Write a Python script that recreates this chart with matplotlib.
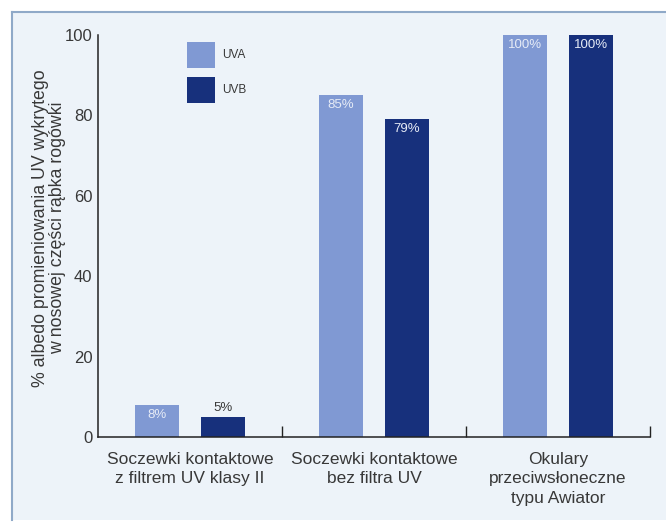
import matplotlib
matplotlib.use("Agg")
import matplotlib.pyplot as plt
import numpy as np
from matplotlib.patches import Rectangle

plt.rcParams['font.family'] = ['Liberation Sans', 'DejaVu Sans']

categories = ["Soczewki kontaktowe\nz filtrem UV klasy II",
              "Soczewki kontaktowe\nbez filtra UV",
              "Okulary\nprzeciwsłoneczne\ntypu Awiator"]
uva = [8, 85, 100]
uvb = [5, 79, 100]
series_names = ["UVA", "UVB"]
y_ticks = [0, 20, 40, 60, 80, 100]
y_label = "% albedo promieniowania UV wykrytego\nw nosowej części rąbka rogówki"

COL_UVA = "#8099d3"
COL_UVB = "#17307c"
PANEL = "#edf3f9"
TEXT = "#383838"

fig = plt.figure(figsize=(6.66, 5.22), dpi=100)
fig.patch.set_facecolor("white")

# light panel with a thin blue frame on the top and left edge
fig.patches.append(Rectangle((12 / 666, 0.004), 1, 1 - 12 / 522 - 0.004,
                             transform=fig.transFigure, facecolor=PANEL,
                             edgecolor="none", zorder=-10))
fig.add_artist(plt.Line2D([12 / 666, 12 / 666], [0.004, 1 - 12 / 522],
                          transform=fig.transFigure, color="#8fa9c8", lw=1.5))
fig.add_artist(plt.Line2D([12 / 666, 1], [1 - 12 / 522, 1 - 12 / 522],
                          transform=fig.transFigure, color="#8fa9c8", lw=1.5))

ax = fig.add_axes([98 / 666, 1 - 437 / 522, (650 - 98) / 666, (437 - 35) / 522])
ax.set_facecolor("none")
ax.set_zorder(1)

x = np.arange(len(categories))
w = 0.24
off = 0.18
bars_a = ax.bar(x - off, uva, w, color=COL_UVA, zorder=2)
bars_b = ax.bar(x + off, uvb, w, color=COL_UVB, zorder=2)

# value labels: white inside the bar top, dark above short bars
for bars, vals in ((bars_a, uva), (bars_b, uvb)):
    for b, v in zip(bars, vals):
        cx = b.get_x() + b.get_width() / 2
        if v >= 8:
            ax.text(cx, v - 1.0, f"{v}%", ha="center", va="top",
                    color="#e6ebf6", fontsize=9.5, zorder=3)
        else:
            ax.text(cx, v + 0.8, f"{v}%", ha="center", va="bottom",
                    color=TEXT, fontsize=9.5, zorder=3)

ax.set_xlim(-0.5, 2.5)
ax.set_ylim(0, 100)
ax.set_yticks(y_ticks)
ax.set_yticklabels([str(t) for t in y_ticks], fontsize=12, color=TEXT)
ax.tick_params(axis="y", length=0, pad=4)

ax.set_xticks(x)
ax.set_xticklabels(categories, fontsize=12.5, color=TEXT, linespacing=1.35)
ax.tick_params(axis="x", length=0, pad=11)
ax.set_xticks([0.5, 1.5, 2.5], minor=True)
ax.tick_params(axis="x", which="minor", direction="in", length=8,
               width=1, color="#222222")

for side in ("top", "right"):
    ax.spines[side].set_visible(False)
for side in ("left", "bottom"):
    ax.spines[side].set_color("#222222")
    ax.spines[side].set_linewidth(1.1)

fig.text(49 / 666, 1 - 228 / 522, y_label, rotation=90, fontsize=12.8,
         color=TEXT, ha="center", va="center", multialignment="center",
         linespacing=1.05)

# legend drawn as squares with labels
for i, (name, col) in enumerate(zip(series_names, [COL_UVA, COL_UVB])):
    y0 = 1 - (68 + 35 * i) / 522
    fig.patches.append(Rectangle((187 / 666, y0), 28 / 666, 26 / 522,
                                 transform=fig.transFigure, facecolor=col,
                                 edgecolor="none", zorder=3))
    fig.text(222 / 666, y0 + 13 / 522, name, fontsize=8.5, color=TEXT,
             va="center", ha="left")

fig.savefig("out.png", dpi=100)
